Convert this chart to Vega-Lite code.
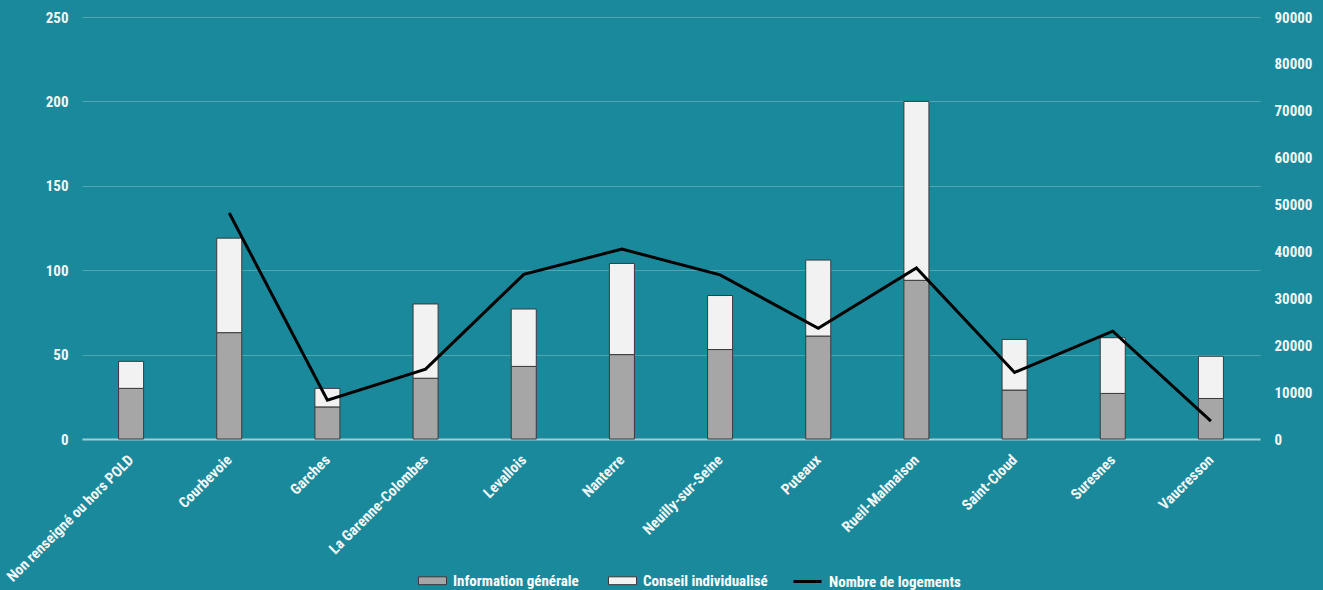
{
  "$schema": "https://vega.github.io/schema/vega-lite/v6.json",
  "width": 1178,
  "height": 422,
  "autosize": {"type": "none"},
  "padding": {"left": 82, "top": 17, "right": 63, "bottom": 151},
  "background": "#1a899b",
  "config": {
    "view": {"stroke": null},
    "font": "Liberation Sans Narrow, Roboto Condensed, Roboto",
    "axis": {
      "labelColor": "#f2f7f8",
      "labelFont": "Liberation Sans Narrow, Roboto Condensed, Roboto",
      "labelFontSize": 15,
      "labelFontWeight": "bold",
      "ticks": false,
      "domain": false,
      "title": null
    },
    "legend": {
      "title": null,
      "labelColor": "#ffffff",
      "labelFont": "Liberation Sans Narrow, Roboto Condensed, Roboto",
      "labelFontSize": 15,
      "labelFontWeight": "bold",
      "labelOffset": 6,
      "columnPadding": 27,
      "symbolSize": 784,
      "direction": "horizontal",
      "orient": "none"
    }
  },
  "datasets": {
    "bars": [
      {"commune": "Non renseigné ou hors POLD", "serie": "Information générale", "ordre": 1, "valeur": 30},
      {"commune": "Non renseigné ou hors POLD", "serie": "Conseil individualisé", "ordre": 2, "valeur": 16},
      {"commune": "Courbevoie", "serie": "Information générale", "ordre": 1, "valeur": 63},
      {"commune": "Courbevoie", "serie": "Conseil individualisé", "ordre": 2, "valeur": 56},
      {"commune": "Garches", "serie": "Information générale", "ordre": 1, "valeur": 19},
      {"commune": "Garches", "serie": "Conseil individualisé", "ordre": 2, "valeur": 11},
      {"commune": "La Garenne-Colombes", "serie": "Information générale", "ordre": 1, "valeur": 36},
      {"commune": "La Garenne-Colombes", "serie": "Conseil individualisé", "ordre": 2, "valeur": 44},
      {"commune": "Levallois", "serie": "Information générale", "ordre": 1, "valeur": 43},
      {"commune": "Levallois", "serie": "Conseil individualisé", "ordre": 2, "valeur": 34},
      {"commune": "Nanterre", "serie": "Information générale", "ordre": 1, "valeur": 50},
      {"commune": "Nanterre", "serie": "Conseil individualisé", "ordre": 2, "valeur": 54},
      {"commune": "Neuilly-sur-Seine", "serie": "Information générale", "ordre": 1, "valeur": 53},
      {"commune": "Neuilly-sur-Seine", "serie": "Conseil individualisé", "ordre": 2, "valeur": 32},
      {"commune": "Puteaux", "serie": "Information générale", "ordre": 1, "valeur": 61},
      {"commune": "Puteaux", "serie": "Conseil individualisé", "ordre": 2, "valeur": 45},
      {"commune": "Rueil-Malmaison", "serie": "Information générale", "ordre": 1, "valeur": 94},
      {"commune": "Rueil-Malmaison", "serie": "Conseil individualisé", "ordre": 2, "valeur": 106},
      {"commune": "Saint-Cloud", "serie": "Information générale", "ordre": 1, "valeur": 29},
      {"commune": "Saint-Cloud", "serie": "Conseil individualisé", "ordre": 2, "valeur": 30},
      {"commune": "Suresnes", "serie": "Information générale", "ordre": 1, "valeur": 27},
      {"commune": "Suresnes", "serie": "Conseil individualisé", "ordre": 2, "valeur": 33},
      {"commune": "Vaucresson", "serie": "Information générale", "ordre": 1, "valeur": 24},
      {"commune": "Vaucresson", "serie": "Conseil individualisé", "ordre": 2, "valeur": 25}
    ],
    "logements": [
      {"commune": "Courbevoie", "logements": 48200},
      {"commune": "Garches", "logements": 8300},
      {"commune": "La Garenne-Colombes", "logements": 14900},
      {"commune": "Levallois", "logements": 35100},
      {"commune": "Nanterre", "logements": 40500},
      {"commune": "Neuilly-sur-Seine", "logements": 35000},
      {"commune": "Puteaux", "logements": 23600},
      {"commune": "Rueil-Malmaison", "logements": 36500},
      {"commune": "Saint-Cloud", "logements": 14200},
      {"commune": "Suresnes", "logements": 23000},
      {"commune": "Vaucresson", "logements": 3800}
    ]
  },
  "encoding": {
    "x": {
      "field": "commune",
      "type": "nominal",
      "scale": {
        "domain": ["Non renseigné ou hors POLD", "Courbevoie", "Garches", "La Garenne-Colombes", "Levallois", "Nanterre", "Neuilly-sur-Seine", "Puteaux", "Rueil-Malmaison", "Saint-Cloud", "Suresnes", "Vaucresson"],
        "paddingInner": 0.745,
        "paddingOuter": 0.3725
      },
      "axis": {
        "labelAngle": -45,
        "labelAlign": "right",
        "labelBaseline": "middle",
        "labelPadding": 18,
        "domain": true,
        "domainColor": "#a3cdd4",
        "domainWidth": 2
      }
    }
  },
  "layer": [
    {
      "data": {"name": "bars"},
      "mark": {"type": "bar", "stroke": "#3a3a3a", "strokeWidth": 1},
      "encoding": {
        "y": {
          "field": "valeur",
          "type": "quantitative",
          "stack": "zero",
          "scale": {"domain": [0, 250], "nice": false},
          "axis": {
            "values": [0, 50, 100, 150, 200, 250],
            "grid": true,
            "gridColor": "#4fa5b2",
            "gridWidth": 1,
            "labelPadding": 14
          }
        },
        "fill": {
          "field": "serie",
          "type": "nominal",
          "scale": {
            "domain": ["Information générale", "Conseil individualisé"],
            "range": ["#a6a6a6", "#f2f2f2"]
          },
          "legend": {
            "legendX": 336,
            "legendY": 549,
            "symbolType": "M-1,-0.28H1V0.28H-1Z",
            "symbolStrokeColor": "#3a3a3a",
            "symbolStrokeWidth": 1
          }
        },
        "order": {"field": "ordre", "type": "quantitative"}
      }
    },
    {
      "data": {"name": "logements"},
      "mark": {"type": "line", "strokeWidth": 3},
      "encoding": {
        "y": {
          "field": "logements",
          "type": "quantitative",
          "scale": {"domain": [0, 90000], "nice": false},
          "axis": {
            "orient": "right",
            "values": [0, 10000, 20000, 30000, 40000, 50000, 60000, 70000, 80000, 90000],
            "grid": false,
            "labelPadding": 14,
            "format": "d"
          }
        },
        "stroke": {
          "datum": "Nombre de logements",
          "scale": {"range": ["#000000"]},
          "legend": {
            "legendX": 710,
            "legendY": 549,
            "symbolType": "stroke",
            "symbolStrokeWidth": 3
          }
        }
      }
    }
  ],
  "resolve": {"scale": {"y": "independent"}}
}
